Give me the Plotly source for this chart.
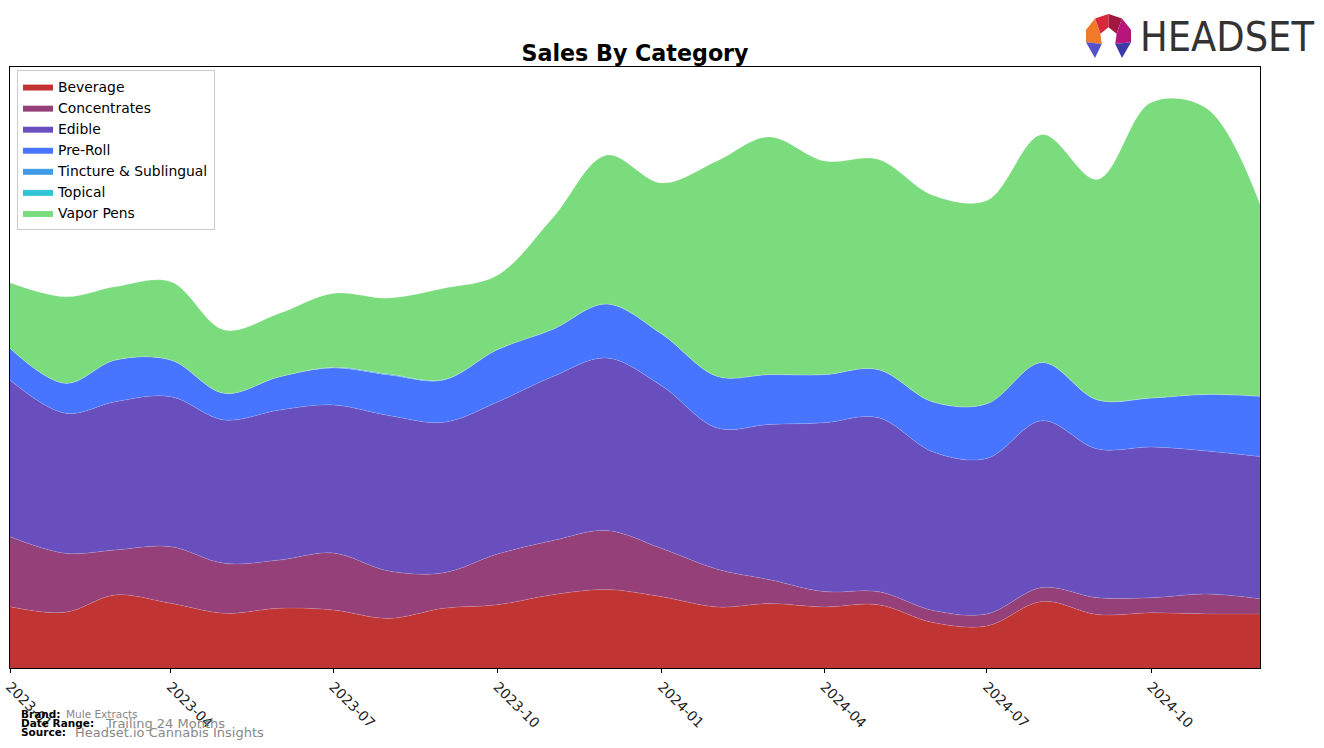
"""Sales By Category - stacked monthly area chart for Mule Extracts."""

import plotly.graph_objects as go

# monthly sales (arbitrary units), Jan 2023 .. Dec 2024
MONTHS = [
    "2023-01-01", "2023-02-01", "2023-03-01", "2023-04-01", "2023-05-01", "2023-06-01",
    "2023-07-01", "2023-08-01", "2023-09-01", "2023-10-01", "2023-11-01", "2023-12-01",
    "2024-01-01", "2024-02-01", "2024-03-01", "2024-04-01", "2024-05-01", "2024-06-01",
    "2024-07-01", "2024-08-01", "2024-09-01", "2024-10-01", "2024-11-01", "2024-12-01",
]

BEVERAGE = [61.3, 55.7, 73.0, 64.7, 54.7, 59.7, 58.0, 49.6, 59.8, 63.2, 73.3, 78.4,
            71.2, 61.0, 64.4, 61.0, 63.3, 45.4, 42.0, 66.5, 53.4, 55.2, 54.1, 54.1]
CONCENTRATES = [70.0, 59.0, 45.0, 56.6, 50.0, 48.3, 57.0, 47.4, 35.5, 50.7, 54.1, 59.1,
                48.3, 37.8, 24.1, 15.4, 13.1, 12.1, 12.1, 14.0, 16.9, 15.1, 20.0, 15.1]
EDIBLE = [156.7, 140.0, 148.3, 150.0, 143.3, 150.0, 148.0, 155.5, 150.4, 152.1, 164.0, 172.5,
          162.5, 141.2, 155.0, 168.8, 174.0, 158.5, 155.5, 166.8, 148.7, 150.7, 143.0, 142.3]
PRE_ROLL = [31.7, 30.0, 41.7, 36.7, 26.7, 33.3, 37.0, 40.5, 42.3, 52.4, 47.3, 54.0,
            52.0, 51.7, 49.9, 48.2, 48.2, 50.0, 54.6, 58.3, 49.0, 49.0, 56.5, 60.2]
TINCTURE = [0.0, 0.0, 0.0, 0.0, 0.0, 0.0, 0.6, 0.9, 0.4, 0.0, 0.0, 0.0,
            0.0, 0.0, 0.0, 0.0, 0.0, 0.0, 0.0, 0.0, 0.3, 0.0, 0.0, 0.0]
TOPICAL = [0.0] * 24
VAPOR_PENS = [65.6, 86.6, 73.3, 78.3, 63.3, 63.4, 74.0, 76.0, 91.3, 74.4, 111.5, 148.8,
              151.0, 215.3, 237.7, 213.6, 210.1, 206.5, 203.3, 227.8, 220.2, 295.4, 286.2, 192.1]

CATEGORIES = [
    ("Beverage", BEVERAGE, "#c13434"),
    ("Concentrates", CONCENTRATES, "#954078"),
    ("Edible", EDIBLE, "#684fbd"),
    ("Pre-Roll", PRE_ROLL, "#4775ff"),
    ("Tincture & Sublingual", TINCTURE, "#3f9be6"),
    ("Topical", TOPICAL, "#31c4d6"),
    ("Vapor Pens", VAPOR_PENS, "#7bdc7d"),
]

Y_TOP = 601  # axis top, same units as the series

W, H = 1324, 748
PLOT_L, PLOT_R, PLOT_T, PLOT_B = 10, 1260, 67, 668


def px(x):
    return (x - PLOT_L) / (PLOT_R - PLOT_L)


def py(y):
    return (PLOT_B - y) / (PLOT_B - PLOT_T)


fig = go.Figure()

for name, values, color in CATEGORIES:
    fig.add_trace(
        go.Scatter(
            x=MONTHS,
            y=values,
            name=name,
            mode="lines",
            stackgroup="one",
            fillcolor=color,
            line=dict(color="rgba(255,255,255,0.25)", width=0.6, shape="spline", smoothing=1.0),
            hovertemplate=f"{name}: %{{y:.1f}}<extra></extra>",
        )
    )

fig.update_layout(
    width=W,
    height=H,
    margin=dict(l=PLOT_L, r=W - PLOT_R, t=PLOT_T, b=H - PLOT_B, autoexpand=False),
    paper_bgcolor="white",
    plot_bgcolor="white",
    font=dict(family="DejaVu Sans", color="#000000"),
    title=dict(
        text="<b>Sales By Category</b>",
        font=dict(size=22.2, family="DejaVu Sans", color="#000000"),
        x=px(635),
        xref="paper",
        xanchor="center",
        y=1 - 53 / H,
        yref="container",
        yanchor="middle",
    ),
    showlegend=True,
    legend=dict(
        x=px(17),
        y=py(70),
        xanchor="left",
        yanchor="top",
        traceorder="normal",
        bgcolor="rgba(255,255,255,0.8)",
        bordercolor="#cccccc",
        borderwidth=1,
        font=dict(size=13.9, family="DejaVu Sans", color="#000000"),
    ),
    hovermode="x unified",
)

fig.update_xaxes(
    type="date",
    range=[MONTHS[0], MONTHS[-1]],
    tick0=MONTHS[0],
    dtick="M3",
    tickformat="%Y-%m",
    tickangle=45,
    ticks="outside",
    ticklen=4,
    tickcolor="#000000",
    tickfont=dict(size=13.9, family="DejaVu Sans", color="#222222"),
    showgrid=False,
    zeroline=False,
    showline=True,
    linecolor="#000000",
    linewidth=1,
    mirror=True,
)
fig.update_yaxes(
    range=[0, Y_TOP],
    showticklabels=False,
    ticks="",
    showgrid=False,
    zeroline=False,
    showline=True,
    linecolor="#000000",
    linewidth=1,
    mirror=True,
)

# footer
footer = [
    ("<b>Brand:</b>", 19, 714, 10.5, "#000000"),
    ("Mule Extracts", 64, 714, 10.5, "#888888"),
    ("<b>Date Range:</b>", 19, 723, 10.5, "#000000"),
    ("Trailing 24 Months", 103, 723, 13, "#888888"),
    ("<b>Source:</b>", 19, 732, 10.5, "#000000"),
    ("Headset.io Cannabis Insights", 73, 732, 13, "#888888"),
]
for text, x, y, size, color in footer:
    fig.add_annotation(
        text=text,
        x=px(x),
        y=py(y),
        xref="paper",
        yref="paper",
        xanchor="left",
        yanchor="middle",
        showarrow=False,
        font=dict(size=size, family="DejaVu Sans", color=color),
    )

# HEADSET logo: text + faceted icon
fig.add_annotation(
    text="HEADSET",
    x=px(1138),
    y=py(37),
    xref="paper",
    yref="paper",
    xanchor="left",
    yanchor="middle",
    showarrow=False,
    font=dict(size=41, family="Liberation Sans Narrow, DejaVu Sans Condensed, Roboto Condensed", color="#333333"),
)

ICON_X0, ICON_Y0, ICON_W, ICON_H = 1086, 14, 45, 44
icon_facets = [
    ([(0.2, 0.1), (0.5, 0.0), (0.5, 0.3), (0.32, 0.45)], "#d9283c"),
    ([(0.5, 0.0), (0.8, 0.1), (0.68, 0.45), (0.5, 0.3)], "#a3183f"),
    ([(0.0, 0.36), (0.2, 0.1), (0.32, 0.45), (0.35, 0.68), (0.0, 0.64)], "#f07a2a"),
    ([(1.0, 0.36), (0.8, 0.1), (0.68, 0.45), (0.65, 0.68), (1.0, 0.64)], "#b8157c"),
    ([(0.0, 0.64), (0.35, 0.68), (0.2, 1.0)], "#5552c9"),
    ([(1.0, 0.64), (0.65, 0.68), (0.8, 1.0)], "#3b3aa6"),
]
for pts, color in icon_facets:
    coords = [(px(ICON_X0 + u * ICON_W), py(ICON_Y0 + v * ICON_H)) for u, v in pts]
    path = "M " + " L ".join(f"{x:.5f},{y:.5f}" for x, y in coords) + " Z"
    fig.add_shape(
        type="path",
        path=path,
        xref="paper",
        yref="paper",
        fillcolor=color,
        line=dict(width=0),
        layer="above",
    )

# the page's default 8px body margin would shift the figure
fig.write_html(
    "out.html",
    config={"displayModeBar": False},
    post_script="document.body.style.margin = '0px';",
)
